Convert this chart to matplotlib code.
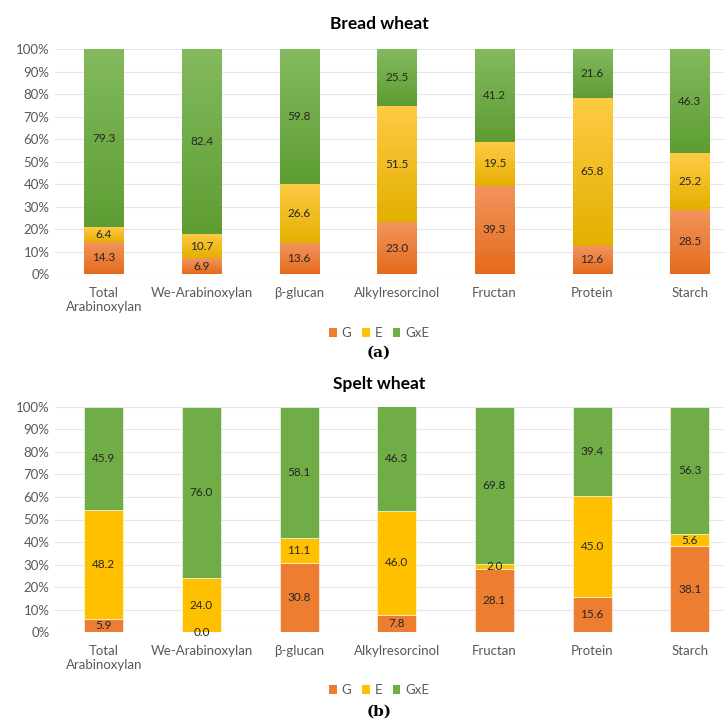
import numpy as np
import matplotlib.pyplot as plt
from matplotlib.colors import LinearSegmentedColormap
from matplotlib.patches import Patch

plt.rcParams['font.family'] = ['Lato', 'DejaVu Sans']

categories = ["Total\nArabinoxylan", "We-Arabinoxylan", "β-glucan", "Alkylresorcinol",
              "Fructan", "Protein", "Starch"]
series_names = ["G", "E", "GxE"]

bread_g = [14.3, 6.9, 13.6, 23.0, 39.3, 12.6, 28.5]
bread_e = [6.4, 10.7, 26.6, 51.5, 19.5, 65.8, 25.2]
bread_gxe = [79.3, 82.4, 59.8, 25.5, 41.2, 21.6, 46.3]

spelt_g = [5.9, 0.0, 30.8, 7.8, 28.1, 15.6, 38.1]
spelt_e = [48.2, 24.0, 11.1, 46.0, 2.0, 45.0, 5.6]
spelt_gxe = [45.9, 76.0, 58.1, 46.3, 69.8, 39.4, 56.3]

flat_colors = ['#ED7D31', '#FFC000', '#70AD47']
grad_colors = [('#F2955E', '#E56B1C'), ('#FFCB45', '#E4B000'), ('#83BA5E', '#5E9D33')]

W, H = 724, 725
fig = plt.figure(figsize=(W / 100, H / 100), dpi=100)
cx = 379 / W  # title / legend centre


def draw_panel(top_px, bottom_px, title, title_y, series, gradient, legend_y, tag, tag_y):
    ax = fig.add_axes([55 / W, 1 - bottom_px / H, 669 / W, (bottom_px - top_px) / H])
    x = np.arange(len(categories))
    bottoms = np.zeros(len(categories))
    for i, vals in enumerate(series):
        vals = np.array(vals)
        bars = ax.bar(x, vals, 0.4, bottom=bottoms, color=flat_colors[i],
                      edgecolor='white', linewidth=0.4, zorder=2)
        if gradient:
            cmap = LinearSegmentedColormap.from_list('g%d' % i, [grad_colors[i][1], grad_colors[i][0]])
            for b in bars:
                x0, y0 = b.get_x(), b.get_y()
                w, h = b.get_width(), b.get_height()
                if h <= 0:
                    continue
                grad = np.linspace(0, 1, 64).reshape(-1, 1)
                ax.imshow(grad, extent=[x0, x0 + w, y0, y0 + h], origin='lower',
                          cmap=cmap, aspect='auto', zorder=2.5, interpolation='bilinear')
        for xi, v, b0 in zip(x, vals, bottoms):
            ax.text(xi, b0 + v / 2, f"{v:.1f}", ha='center', va='center',
                    fontsize=8.5, color='#262626', zorder=4)
        bottoms = bottoms + vals

    ax.set_xlim(-0.5, 6.35)
    ax.set_ylim(0, 100)
    ax.set_yticks(np.arange(0, 101, 10))
    ax.set_yticklabels([f"{t}%" for t in range(0, 101, 10)])
    ax.set_xticks(x)
    ax.set_xticklabels(categories)
    ax.grid(axis='y', color='#E6E6E6', linewidth=0.8, zorder=0)
    ax.set_axisbelow(True)
    for s in ax.spines.values():
        s.set_visible(False)
    ax.tick_params(axis='both', length=0, labelsize=9.5, colors='#595959')
    ax.tick_params(axis='x', pad=9)
    ax.tick_params(axis='y', pad=4)

    fig.text(cx, 1 - title_y / H, title, ha='center', va='center',
             fontsize=12.5, fontweight='bold', color='black')
    handles = [Patch(facecolor=c) for c in flat_colors]
    fig.legend(handles, series_names, loc='center', bbox_to_anchor=(cx, 1 - legend_y / H),
               ncol=3, frameon=False, handlelength=0.6, handleheight=0.6,
               handletextpad=0.35, columnspacing=0.8, fontsize=9.5, labelcolor='#595959')
    fig.text(cx, 1 - tag_y / H, tag, ha='center', va='center', fontsize=11,
             fontweight='bold', family='DejaVu Serif')


draw_panel(49, 274, "Bread wheat", 24, [bread_g, bread_e, bread_gxe], True, 333, "(a)", 353)
draw_panel(406.7, 632.3, "Spelt wheat", 384, [spelt_g, spelt_e, spelt_gxe], False, 690, "(b)", 712)

fig.savefig("out.png", dpi=100)
